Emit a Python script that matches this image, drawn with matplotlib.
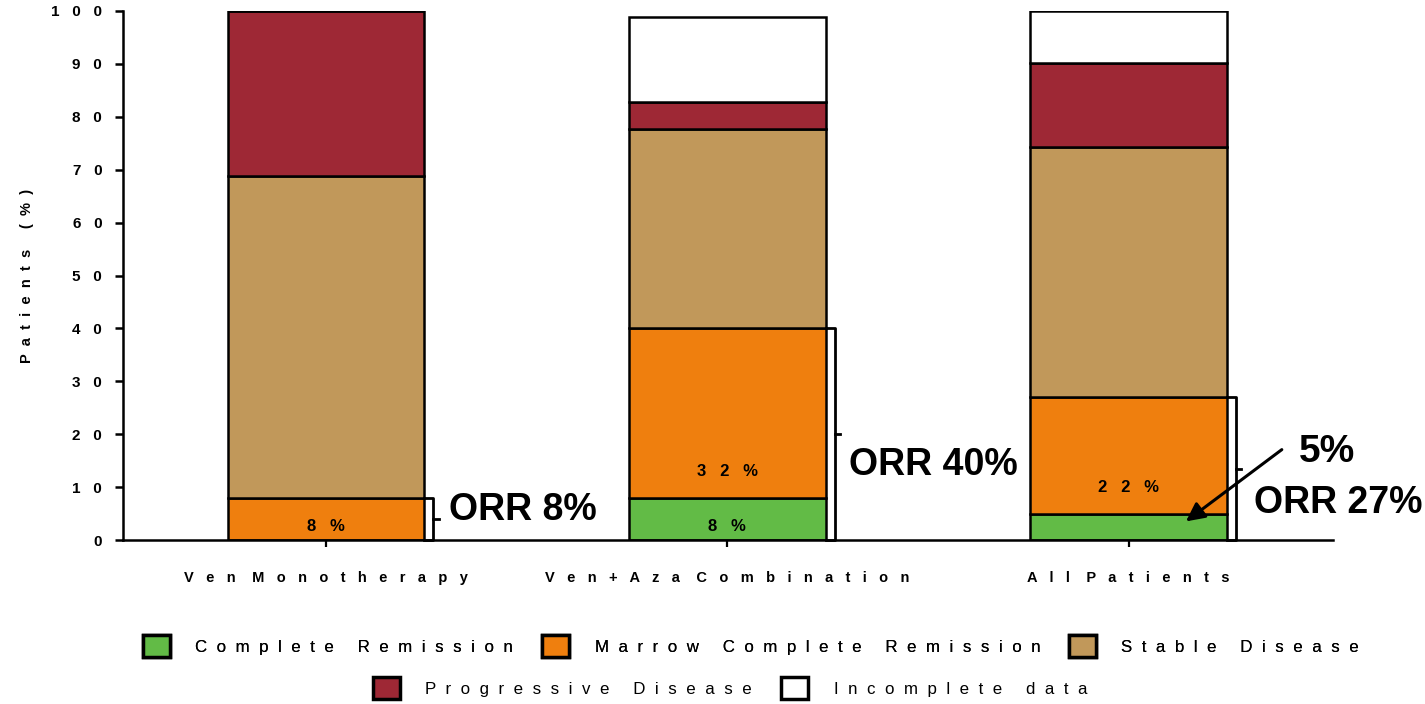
import matplotlib
matplotlib.use("Agg")
import matplotlib.pyplot as plt
from matplotlib.patches import Patch

plt.rcParams['font.family'] = ['Liberation Sans', 'DejaVu Sans']

# response breakdown per cohort (% of patients)
groups = ["Ven Monotherapy", "Ven+Aza Combination", "All Patients"]
complete_rem = [0, 8, 5]
marrow_cr = [8, 32, 22]
stable = [60.8, 37.7, 47.3]
progressive = [31.2, 5.1, 15.9]
incomplete = [0, 16.1, 9.8]
orr = [8, 40, 27]

series = [
    ("Complete Remission", complete_rem, "#62bb46"),
    ("Marrow Complete Remission", marrow_cr, "#ef7f0e"),
    ("Stable Disease", stable, "#c1985a"),
    ("Progressive Disease", progressive, "#9e2835"),
    ("Incomplete data", incomplete, "#ffffff"),
]
labelled = ["Complete Remission", "Marrow Complete Remission"]


def spaced(text, gap=3, word_gap=None):
    # wide letter spacing, done with plain spaces
    if word_gap is None:
        word_gap = gap + 2
    return (" " * word_gap).join((" " * gap).join(w) for w in text.split(" "))


fig = plt.figure(figsize=(14.25, 7.04), dpi=100)
ax = fig.add_axes([123 / 1425, 1 - 540 / 704, 1210 / 1425, 529 / 704])

x = list(range(len(groups)))
width = 0.49
bottom = [0.0] * len(groups)
for name, vals, color in series:
    ax.bar(x, vals, width, bottom=bottom, color=color, edgecolor="black",
           linewidth=1.8, zorder=2)
    if name in labelled:
        for i, v in enumerate(vals):
            # small segments are labelled by the arrow instead
            if v >= 8:
                ax.text(x[i], bottom[i] + min(5, 0.33 * v), spaced(f"{v:g}%"),
                        ha="center", va="center", fontsize=12, fontweight="bold")
    bottom = [b + v for b, v in zip(bottom, vals)]

# ORR brackets to the right of each bar
for i, val in enumerate(orr):
    bx = x[i] + 0.267
    ax.plot([bx - 0.022, bx, bx, bx - 0.022], [val, val, 0, 0], color="black",
            lw=2.0, zorder=3, clip_on=False)
    ax.plot([bx, bx + 0.014], [val / 2, val / 2], color="black", lw=2.0, zorder=3)

ax.text(x[0] + 0.307, 5.7, f"ORR {orr[0]}%", fontsize=27, fontweight="bold", va="center")
ax.text(x[1] + 0.302, 14.2, f"ORR {orr[1]}%", fontsize=27, fontweight="bold", va="center")
ax.text(x[2] + 0.312, 7.0, f"ORR {orr[2]}%", fontsize=27, fontweight="bold", va="center")
ax.text(x[2] + 0.424, 16.6, f"{complete_rem[2]}%", fontsize=28, fontweight="bold", va="center")
ax.annotate("", xy=(x[2] + 0.137, 3.2), xytext=(x[2] + 0.387, 17.4),
            arrowprops=dict(arrowstyle="-|>", color="black", lw=2.2, mutation_scale=28))

ax.set_xlim(-0.506, 2.509)
ax.set_ylim(0, 100)
ax.set_yticks(range(0, 101, 10))
ax.set_yticklabels([spaced(str(t)) for t in range(0, 101, 10)],
                   fontsize=11, fontweight="bold")
ax.set_xticks(x)
ax.set_xticklabels([spaced(g, 3, 4) for g in groups], fontsize=10.5, fontweight="bold")
ax.tick_params(axis="y", direction="out", length=6, width=1.8, pad=9)
ax.tick_params(axis="x", direction="out", length=5, width=1.6, pad=17)
ax.set_ylabel(spaced("Patients (%)", 2, 5), fontsize=10.5, fontweight="bold", labelpad=12)

for side in ("top", "right"):
    ax.spines[side].set_visible(False)
for side in ("left", "bottom"):
    ax.spines[side].set_linewidth(1.8)

handles = [Patch(facecolor=c, edgecolor="black", linewidth=2.5, label=spaced(n, 2, 5))
           for n, _, c in series]
leg_kw = dict(frameon=False, fontsize=12.2, handlelength=1.6, handleheight=1.6,
              handletextpad=1.5, columnspacing=1.7, loc="center")
leg1 = fig.legend(handles=handles[:3], ncol=3, bbox_to_anchor=(751 / 1425, 1 - 646 / 704), **leg_kw)
fig.add_artist(leg1)
fig.legend(handles=handles[3:], ncol=2, bbox_to_anchor=(730 / 1425, 1 - 688 / 704), **leg_kw)

fig.savefig("out.png", dpi=100)
